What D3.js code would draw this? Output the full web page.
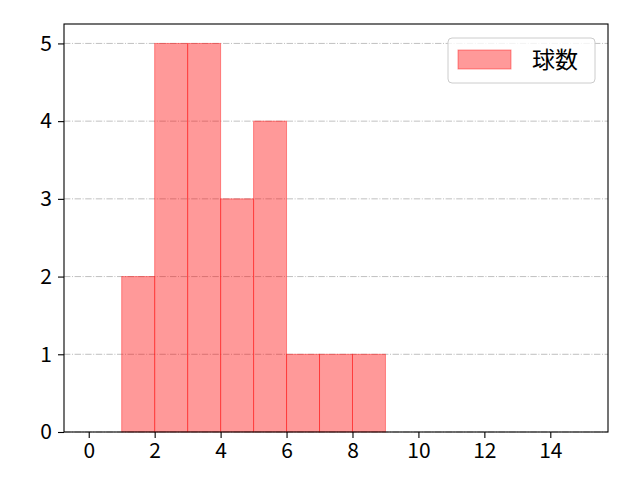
<!DOCTYPE html>
<html>
<head>
<meta charset="utf-8">
<script src="https://cdn.jsdelivr.net/npm/d3@7"></script>
<style>
  body { margin: 0; background: #fff; }
  svg text { font-family: "Noto Sans CJK JP", "Noto Sans", sans-serif; fill: #000; }
</style>
</head>
<body>
<svg id="chart" width="640" height="480"></svg>
<script>
"use strict";

/********/
/* data */
/********/

const binStarts = [1, 2, 3, 4, 5, 6, 7, 8];
const binCounts = [2, 5, 5, 3, 4, 1, 1, 1];
const binWidth = 1;
const xTicks = [0, 2, 4, 6, 8, 10, 12, 14];
const yTicks = [0, 1, 2, 3, 4, 5];
const seriesName = "球数";

/********/
/* view */
/********/

const margin = { top: 24, right: 32, bottom: 48, left: 64 };
const width = 640 - margin.left - margin.right;
const height = 480 - margin.top - margin.bottom;

const svg = d3.select("#chart");
const g = svg
  .append("g")
  .attr("transform", "translate(" + margin.left + "," + margin.top + ")");

const x = d3.scaleLinear().domain([-0.75, 15.75]).range([0, width]);
const y = d3.scaleLinear().domain([0, 5.25]).range([height, 0]);

// grid
g.append("g")
  .selectAll("line")
  .data(yTicks)
  .join("line")
  .attr("x1", 0)
  .attr("x2", width)
  .attr("y1", d => y(d))
  .attr("y2", d => y(d))
  .attr("stroke", "#b0b0b0")
  .attr("stroke-width", 0.8)
  .attr("stroke-dasharray", "6.4,1.6,1,1.6");

// bars
const bins = binStarts.map((s, i) => ({ x0: s, x1: s + binWidth, n: binCounts[i] }));
g.append("g")
  .selectAll("rect")
  .data(bins)
  .join("rect")
  .attr("x", d => x(d.x0))
  .attr("y", d => y(d.n))
  .attr("width", d => x(d.x1) - x(d.x0))
  .attr("height", d => y(0) - y(d.n))
  .attr("fill", "rgba(255,0,0,0.4)")
  .attr("stroke", "rgba(255,0,0,0.4)")
  .attr("stroke-width", 1);

// axes
const xAxis = g
  .append("g")
  .attr("transform", "translate(0," + height + ")")
  .call(d3.axisBottom(x).tickValues(xTicks).tickSize(6).tickPadding(5).tickFormat(d3.format("d")));
const yAxis = g
  .append("g")
  .call(d3.axisLeft(y).tickValues(yTicks).tickSize(6).tickPadding(6).tickFormat(d3.format("d")));

[xAxis, yAxis].forEach(function(ax) {
  ax.select(".domain").remove();
  ax.selectAll(".tick line").attr("stroke", "#000").attr("stroke-width", 1.1);
  ax.selectAll(".tick text").attr("font-size", "21px").attr("fill", "#000");
});

// frame
g.append("rect")
  .attr("width", width)
  .attr("height", height)
  .attr("fill", "none")
  .attr("stroke", "#000")
  .attr("stroke-width", 1.1);

// legend
const legend = g.append("g").attr("transform", "translate(" + (width - 160) + ",14)");
legend
  .append("rect")
  .attr("width", 147)
  .attr("height", 45)
  .attr("rx", 4)
  .attr("fill", "rgba(255,255,255,0.8)")
  .attr("stroke", "#cccccc");
legend
  .append("rect")
  .attr("x", 10)
  .attr("y", 12)
  .attr("width", 53)
  .attr("height", 19)
  .attr("fill", "rgba(255,0,0,0.4)")
  .attr("stroke", "rgba(255,0,0,0.4)");
legend
  .append("text")
  .attr("x", 84)
  .attr("y", 30)
  .attr("font-size", "23px")
  .text(seriesName);
</script>
</body>
</html>
